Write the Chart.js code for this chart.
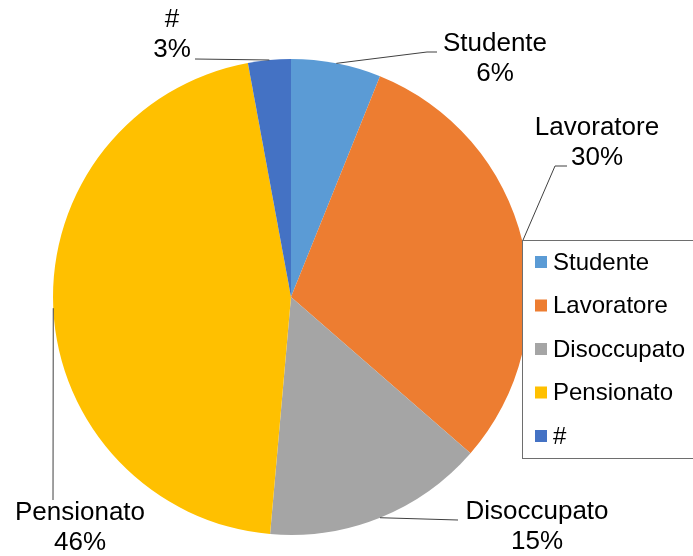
<!DOCTYPE html>
<html>
<head>
<meta charset="utf-8">
<script src="https://cdn.jsdelivr.net/npm/chart.js@4"></script>
<style>
    body { margin: 0; background: #fff; }
    #wrap { width: 693px; height: 556px; position: relative; }
</style>
</head>
<body>
<div id="wrap"><canvas id="pieChart"></canvas></div>
<script>
// Data (percent shares)
const categories = ['Studente', 'Lavoratore', 'Disoccupato', 'Pensionato', '#'];
const values = [6.1, 30.3, 15.0, 45.7, 2.9];
const colors = ['#5B9BD5', '#ED7D31', '#A5A5A5', '#FFC000', '#4472C4'];

// Label placement (text centre, leader line bend points)
const labelPos = [
    { x: 495, y: 44, path: [[427, 52], [437, 52]] },
    { x: 597, y: 128, path: [[555, 166], [567, 166]] },
    { x: 537, y: 512, path: [[458, 520]] },
    { x: 80, y: 513, path: [[53, 500]] },
    { x: 172, y: 20, path: [[195, 59]] }
];

const FONT = '"Liberation Sans", Arial, sans-serif';

const labelsPlugin = {
    id: 'pieLabels',
    afterDraw(chart) {
        const ctx = chart.ctx;
        const arcs = chart.getDatasetMeta(0).data;
        const total = values.reduce((a, b) => a + b, 0);
        ctx.save();

        // leader lines
        ctx.strokeStyle = '#404040';
        ctx.lineWidth = 1;
        arcs.forEach((arc, i) => {
            const mid = (arc.startAngle + arc.endAngle) / 2;
            const ax = arc.x + Math.cos(mid) * arc.outerRadius;
            const ay = arc.y + Math.sin(mid) * arc.outerRadius;
            ctx.beginPath();
            ctx.moveTo(ax, ay);
            labelPos[i].path.forEach(p => ctx.lineTo(p[0], p[1]));
            ctx.stroke();
        });

        // data labels
        ctx.fillStyle = '#000';
        ctx.font = '26px ' + FONT;
        ctx.textAlign = 'center';
        ctx.textBaseline = 'middle';
        arcs.forEach((arc, i) => {
            const pct = Math.round(values[i] / total * 100) + '%';
            ctx.fillText(categories[i], labelPos[i].x, labelPos[i].y);
            ctx.fillText(pct, labelPos[i].x, labelPos[i].y + 30);
        });

        // legend box
        const lx = 522, ly = 240, lw = 180, lh = 218;
        ctx.fillStyle = '#fff';
        ctx.fillRect(lx, ly, lw, lh);
        ctx.strokeStyle = '#6e6e6e';
        ctx.lineWidth = 1;
        ctx.strokeRect(lx + 0.5, ly + 0.5, lw, lh);
        ctx.font = '24px ' + FONT;
        ctx.textAlign = 'left';
        categories.forEach((name, i) => {
            const y = 262 + i * 43.5;
            ctx.fillStyle = colors[i];
            ctx.fillRect(535, y - 6, 12, 12);
            ctx.fillStyle = '#000';
            ctx.fillText(name, 553, y + 1);
        });
        ctx.restore();
    }
};

new Chart(document.getElementById('pieChart'), {
    type: 'pie',
    data: {
        labels: categories,
        datasets: [{
            data: values,
            backgroundColor: colors,
            borderWidth: 0
        }]
    },
    options: {
        responsive: true,
        maintainAspectRatio: false,
        animation: false,
        layout: {
            padding: { left: 53, right: 164, top: 59, bottom: 21 }
        },
        plugins: {
            legend: { display: false },
            tooltip: { enabled: false }
        }
    },
    plugins: [labelsPlugin]
});
</script>
</body>
</html>
